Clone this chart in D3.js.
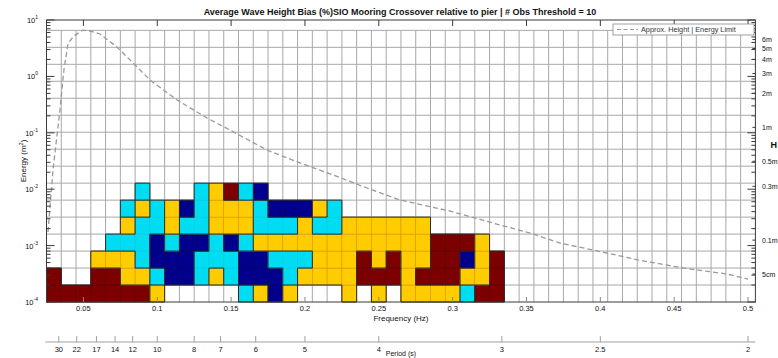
<!DOCTYPE html>
<html><head><meta charset="utf-8">
<script src="https://cdn.jsdelivr.net/npm/d3@7"></script>
<style>
html,body{margin:0;padding:0;background:#fff;overflow:hidden;}
svg{display:block;font-family:"Liberation Sans",Arial,Helvetica,sans-serif;}
</style></head><body>
<svg id="chart" width="778" height="358"></svg>
<script>
// Frequency bin centres (Hz); every bin is 0.01 Hz wide
const freqBins = [0.03,0.04,0.05,0.06,0.07,0.08,0.09,0.10,0.11,0.12,0.13,0.14,0.15,0.16,
                  0.17,0.18,0.19,0.20,0.21,0.22,0.23,0.24,0.25,0.26,0.27,0.28,0.29,0.30,0.31,0.32,0.33];
// Lower edge of each energy bin (m^2); each bin spans a factor of 2
const energyBins = [1e-4, 2e-4, 4e-4, 8e-4, 1.6e-3, 3.2e-3, 6.4e-3];
const energyBinFactor = 2;

// Bias class of each cell (0 = lowest ... 3 = highest), null = fewer obs than threshold
const _ = null;
const biasRow0 = [3,3,3,3,3,3,3,2,_,_,_,_,_,1,2,0,2,_,_,_,2,_,2,_,2,2,2,2,1,3,3];
const biasRow1 = [3,_,_,3,3,2,2,1,0,0,1,2,1,0,0,0,1,2,2,2,2,3,3,3,2,3,3,3,2,2,3];
const biasRow2 = [_,_,_,2,2,2,1,0,0,0,1,1,1,0,0,1,1,1,2,2,2,3,2,3,2,2,3,3,0,2,3];
const biasRow3 = [_,_,_,_,1,1,1,0,1,0,0,1,0,1,2,2,2,2,2,2,2,2,2,2,2,2,3,3,3,2,_];
const biasRow4 = [_,_,_,_,_,2,1,1,2,1,1,2,2,2,1,1,1,2,1,1,2,2,2,2,2,2,_,_,_,_,_];
const biasRow5 = [_,_,_,_,_,1,2,1,2,0,1,2,2,2,1,0,0,0,2,1,_,_,_,_,_,_,_,_,_,_,_];
const biasRow6 = [_,_,_,_,_,_,1,_,_,_,1,2,3,1,0,_,_,_,_,_,_,_,_,_,_,_,_,_,_,_,_];
const biasRows = [biasRow0, biasRow1, biasRow2, biasRow3, biasRow4, biasRow5, biasRow6];

const classColors = ["#00008c", "#00dcf2", "#ffcc00", "#7d0000"];
const classEdges  = ["#000060", "#00cde2", "#d79a00", "#560000"];

// Axis ticks
const freqTicks = [0.05,0.1,0.15,0.2,0.25,0.3,0.35,0.4,0.45,0.5];
const freqTickLabels = ["0.05","0.1","0.15","0.2","0.25","0.3","0.35","0.4","0.45","0.5"];
const periodTicks = [30,22,17,14,12,10,8,7,6,5,4,3,2.5,2];
const heightTicks = [6,5,4,3,2,1,0.5,0.3,0.1,0.05];
const heightLabels = ["6m","5m","4m","3m","2m","1m","0.5m","0.3m","0.1m","5cm"];
const energyDecades = [1e-4,1e-3,1e-2,1e-1,1e0,1e1];
const energyExponents = ["-4","-3","-2","-1","0","1"];

// Approximate height / energy limit curve
const limitFreq   = [0.0260,0.0294,0.0341,0.0368,0.0396,0.0436,0.0497,0.0545,0.0612,0.0727,0.0836,
                     0.0951,0.1134,0.1337,0.1492,0.1743,0.1966,0.2190,0.2420,0.2643,0.2982,0.3321,
                     0.3524,0.3727,0.3951,0.4256,0.4560,0.4858,0.5000];
const limitEnergy = [0.00174,0.0219,0.254,1.30,3.91,5.20,6.60,6.38,5.65,3.32,1.73,
                     0.863,0.382,0.183,0.112,0.0495,0.0292,0.0179,0.0105,0.00644,0.0041,0.00232,
                     0.00167,0.00111,0.000836,0.000556,0.000401,0.000313,0.000255];

const svg = d3.select("#chart");
const L = 46.5, R = 755.4, T = 20, B = 302;
const x = d3.scaleLinear().domain([0.025, 0.505]).range([L, R]);
const y = d3.scaleLog().domain([1e-4, 10]).range([B, T]);
const binW = 0.01;
const gridTop = 1e-4 * Math.pow(2, 16);

// Grid (covers the binned region only)
const grid = svg.append("g").attr("stroke", "#a8a8a8").attr("stroke-width", 1);
d3.range(0.035, 0.5, 0.01).forEach(f => {
  grid.append("line").attr("x1", x(f)).attr("x2", x(f)).attr("y1", B).attr("y2", y(gridTop));
});
d3.range(1, 17).forEach(k => {
  const e = 1e-4 * Math.pow(2, k);
  grid.append("line").attr("x1", L).attr("x2", R).attr("y1", y(e)).attr("y2", y(e));
});

// Cells
const cells = [];
biasRows.forEach((row, r) => row.forEach((c, i) => {
  if (c !== null) cells.push({r, i, c});
}));
svg.append("g").selectAll("rect").data(cells).join("rect")
  .attr("x", d => x(freqBins[d.i] - binW / 2))
  .attr("width", d => x(freqBins[d.i] + binW / 2) - x(freqBins[d.i] - binW / 2))
  .attr("y", d => y(energyBins[d.r] * energyBinFactor))
  .attr("height", d => y(energyBins[d.r]) - y(energyBins[d.r] * energyBinFactor))
  .attr("fill", d => classColors[d.c])
  .attr("stroke", d => classEdges[d.c])
  .attr("stroke-width", 0.6);

// Outlines where neighbouring classes differ
const cls = (r, i) => (r < 0 || r >= biasRows.length || i < 0 || i >= freqBins.length) ? null : biasRows[r][i];
const edges = svg.append("g").attr("stroke", "#2a2a2a").attr("stroke-width", 1);
cells.forEach(d => {
  const x0 = x(freqBins[d.i] - binW / 2), x1 = x(freqBins[d.i] + binW / 2);
  const y0 = y(energyBins[d.r]), y1 = y(energyBins[d.r] * energyBinFactor);
  if (cls(d.r, d.i + 1) !== d.c) edges.append("line").attr("x1", x1).attr("x2", x1).attr("y1", y0).attr("y2", y1);
  if (cls(d.r, d.i - 1) === null) edges.append("line").attr("x1", x0).attr("x2", x0).attr("y1", y0).attr("y2", y1);
  if (cls(d.r + 1, d.i) !== d.c) edges.append("line").attr("x1", x0).attr("x2", x1).attr("y1", y1).attr("y2", y1);
  if (cls(d.r - 1, d.i) === null) edges.append("line").attr("x1", x0).attr("x2", x1).attr("y1", y0).attr("y2", y0);
});

// Energy limit curve
svg.append("path")
  .datum(limitFreq.map((f, k) => [f, limitEnergy[k]]))
  .attr("fill", "none").attr("stroke", "#9a9a9a").attr("stroke-width", 1.3)
  .attr("stroke-dasharray", "5,3")
  .attr("d", d3.line().x(d => x(d[0])).y(d => y(d[1])));

// Frame and ticks
const frame = svg.append("g").attr("stroke", "#3a3a3a").attr("stroke-width", 1);
frame.append("rect").attr("x", L).attr("y", T).attr("width", R - L).attr("height", B - T).attr("fill", "none");
freqTicks.forEach(f => {
  frame.append("line").attr("x1", x(f)).attr("x2", x(f)).attr("y1", B).attr("y2", B - 5).attr("stroke", "#888");
  frame.append("line").attr("x1", x(f)).attr("x2", x(f)).attr("y1", T).attr("y2", T + 6);
});
energyDecades.forEach((e, k) => {
  frame.append("line").attr("x1", L).attr("x2", L + 8).attr("y1", y(e)).attr("y2", y(e));
  frame.append("line").attr("x1", R).attr("x2", R - 8).attr("y1", y(e)).attr("y2", y(e));
  if (k < energyDecades.length - 1) {
    d3.range(2, 10).forEach(m => {
      const v = e * m;
      frame.append("line").attr("x1", L).attr("x2", L + 4).attr("y1", y(v)).attr("y2", y(v));
      frame.append("line").attr("x1", R).attr("x2", R - 4).attr("y1", y(v)).attr("y2", y(v));
    });
  }
});

const txt = "#111";
// Left energy labels
energyDecades.forEach((e, k) => {
  const t = svg.append("text").attr("x", 38).attr("y", y(e) + 3).attr("text-anchor", "end")
    .attr("font-size", 7.5).attr("fill", txt).text("10");
  t.append("tspan").attr("dy", -4).attr("font-size", 5).text(energyExponents[k]);
});
// Frequency labels
freqTicks.forEach((f, k) => {
  svg.append("text").attr("x", x(f)).attr("y", 311).attr("text-anchor", "middle")
    .attr("font-size", 7.5).attr("fill", txt).text(freqTickLabels[k]);
});
svg.append("text").attr("x", (L + R) / 2).attr("y", 321).attr("text-anchor", "middle")
  .attr("font-size", 8).attr("fill", txt).text("Frequency (Hz)");

// Energy axis title
const et = svg.append("text").attr("transform", "translate(26,161) rotate(-90)")
  .attr("text-anchor", "middle").attr("font-size", 8).attr("fill", txt).text("Energy (m");
et.append("tspan").attr("dy", -3).attr("font-size", 5.5).text("2");
et.append("tspan").attr("dy", 3).text(")");

// Wave height labels on the right
heightTicks.forEach((h, k) => {
  const e = h * h / 8;
  svg.append("line").attr("x1", R).attr("x2", R - 3).attr("y1", y(e)).attr("y2", y(e)).attr("stroke", "#3a3a3a");
  svg.append("text").attr("x", 762).attr("y", y(e) + 2.5).attr("font-size", 7).attr("fill", txt).text(heightLabels[k]);
});
svg.append("text").attr("x", 770.5).attr("y", 148).attr("font-size", 9).attr("font-weight", "bold")
  .attr("fill", txt).text("H");

// Period axis
const py = 342;
svg.append("line").attr("x1", L - 1).attr("x2", R).attr("y1", py).attr("y2", py).attr("stroke", "#a0a0a0");
periodTicks.forEach(p => {
  svg.append("line").attr("x1", x(1 / p)).attr("x2", x(1 / p)).attr("y1", py).attr("y2", py - 6).attr("stroke", "#a0a0a0");
  svg.append("text").attr("x", x(1 / p)).attr("y", 352).attr("text-anchor", "middle")
    .attr("font-size", 7.5).attr("fill", txt).text(p);
});
svg.append("text").attr("x", (L + R) / 2).attr("y", 356).attr("text-anchor", "middle")
  .attr("font-size", 7).attr("fill", txt).text("Period (s)");

// Title
svg.append("text").attr("x", 400).attr("y", 15).attr("text-anchor", "middle")
  .attr("font-size", 9).attr("font-weight", "bold").attr("fill", txt)
  .text("Average Wave Height Bias (%)SIO Mooring Crossover relative to pier | # Obs Threshold = 10");

// Legend
const lg = svg.append("g");
lg.append("rect").attr("x", 613).attr("y", 24).attr("width", 141).attr("height", 11)
  .attr("fill", "#fff").attr("stroke", "#8a8a8a").attr("stroke-width", 0.8);
lg.append("line").attr("x1", 617).attr("x2", 638).attr("y1", 29.5).attr("y2", 29.5)
  .attr("stroke", "#9a9a9a").attr("stroke-width", 1.2).attr("stroke-dasharray", "4,2.5");
lg.append("text").attr("x", 641).attr("y", 32.3).attr("font-size", 7.3).attr("fill", "#333")
  .text("Approx. Height | Energy Limit");
</script>
</body></html>
